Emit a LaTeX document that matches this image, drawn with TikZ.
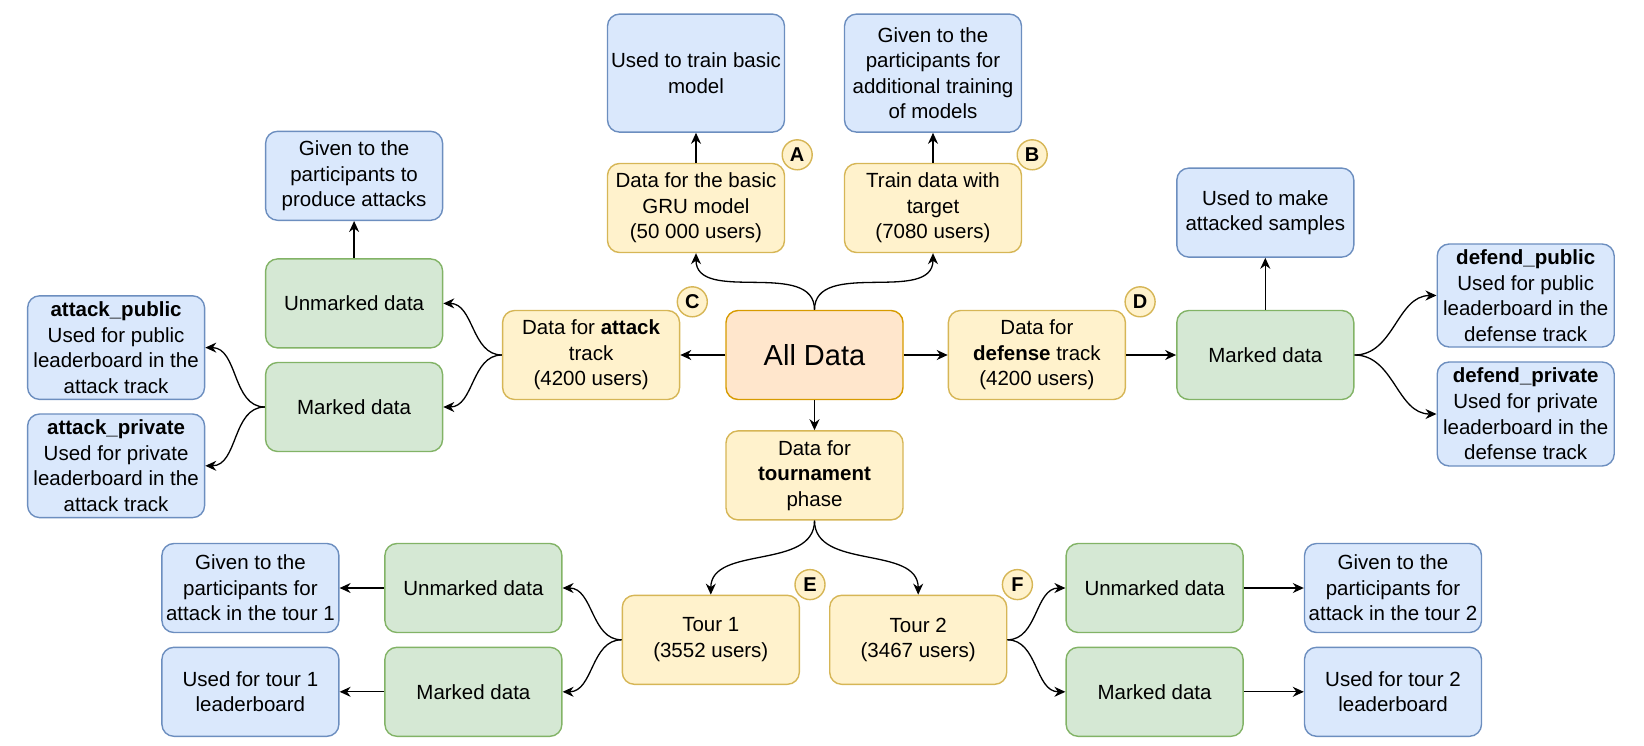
\documentclass[tikz,border=0pt]{standalone}
\usepackage{fontspec}
\setmainfont{Liberation Sans}
\usepackage{tikz}
\usetikzlibrary{positioning,arrows.meta}
\definecolor{bluefill}{HTML}{DAE8FC}
\definecolor{blueline}{HTML}{6C8EBF}
\definecolor{yelfill}{HTML}{FFF2CC}
\definecolor{yelline}{HTML}{D6B656}
\definecolor{grnfill}{HTML}{D5E8D4}
\definecolor{grnline}{HTML}{82B366}
\definecolor{orfill}{HTML}{FFE6CC}
\definecolor{orline}{HTML}{D79B00}

\begin{document}
\begin{tikzpicture}[
  x=0.5pt,y=-0.5pt,
  nbox/.style={rounded corners=6pt,line width=0.7pt,align=center,
               font=\fontsize{10.25}{12.8}\selectfont,inner sep=1pt,
               minimum width=88.5pt,minimum height=44.5pt},
  infobox/.style={nbox,draw=blueline,fill=bluefill},
  databox/.style={nbox,draw=yelline,fill=yelfill},
  markbox/.style={nbox,draw=grnline,fill=grnfill},
  mainbox/.style={nbox,draw=orline,fill=orfill,font=\fontsize{14.5}{17}\selectfont},
  lettertag/.style={circle,draw=yelline,fill=yelfill,line width=0.7pt,
                    minimum size=15pt,inner sep=0pt,
                    font=\bfseries\fontsize{10}{12}\selectfont},
  arr/.style={-{Stealth[length=5.5pt,width=5pt]},line width=0.65pt}
]
  \useasboundingbox (0,0) rectangle (1644,745);

  % centre and the four data parts
  \node[mainbox] (alldata) at (814.5,355) {All Data};
  \node[databox,left=22.5pt of alldata] (atk) {Data for \textbf{attack}\\track\\(4200 users)};
  \node[databox,right=22pt of alldata] (def) {Data for\\\textbf{defense} track\\(4200 users)};
  \node[databox,below=15pt of alldata] (tourn) {Data for\\\textbf{tournament}\\phase};
  \node[databox,above=28.3pt of alldata,xshift=-59.25pt] (basic) {Data for the basic\\GRU model\\(50 000 users)};
  \node[databox,above=28.3pt of alldata,xshift=59.25pt] (train) {Train data with\\target\\(7080 users)};

  % top
  \node[infobox,above=15pt of basic,minimum height=59pt] (basicuse) {Used to train basic\\model};
  \node[infobox,above=15pt of train,minimum height=59pt] (trainuse) {Given to the\\participants for\\additional training\\of models};

  % attack track
  \node[markbox,left=29.3pt of atk,yshift=25.8pt] (atkunm) {Unmarked data};
  \node[markbox,left=29.3pt of atk,yshift=-26pt] (atkmrk) {Marked data};
  \node[infobox,above=18.6pt of atkunm] (atkgiven) {Given to the\\participants to\\produce attacks};
  \node[infobox,left=29.8pt of atkmrk,yshift=29.7pt,minimum height=51.8pt] (atkpub) {\textbf{attack\_public}\\Used for public\\leaderboard in the\\attack track};
  \node[infobox,left=29.8pt of atkmrk,yshift=-29.4pt,minimum height=51.8pt] (atkpriv) {\textbf{attack\_private}\\Used for private\\leaderboard in the\\attack track};

  % defense track
  \node[markbox,right=25pt of def] (defmrk) {Marked data};
  \node[infobox,above=26pt of defmrk] (defuse) {Used to make\\attacked samples};
  \node[infobox,right=41pt of defmrk,yshift=29.75pt,minimum height=51.5pt] (defpub) {\textbf{defend\_public}\\Used for public\\leaderboard in the\\defense track};
  \node[infobox,right=41pt of defmrk,yshift=-29.5pt,minimum height=52pt] (defpriv) {\textbf{defend\_private}\\Used for private\\leaderboard in the\\defense track};

  % tournament
  \node[databox,below=37pt of tourn,xshift=-51.85pt] (tourA) {Tour 1\\(3552 users)};
  \node[databox,below=37pt of tourn,xshift=51.85pt] (tourB) {Tour 2\\(3467 users)};
  \node[markbox,left=29.5pt of tourA,yshift=25.9pt] (tAunm) {Unmarked data};
  \node[markbox,left=29.5pt of tourA,yshift=-26pt] (tAmrk) {Marked data};
  \node[infobox,left=22.3pt of tAunm] (tAgiven) {Given to the\\participants for\\attack in the tour 1};
  \node[infobox,left=22.3pt of tAmrk] (tAused) {Used for tour 1\\leaderboard};
  \node[markbox,right=29pt of tourB,yshift=25.9pt] (tBunm) {Unmarked data};
  \node[markbox,right=29pt of tourB,yshift=-26pt] (tBmrk) {Marked data};
  \node[infobox,right=30pt of tBunm] (tBgiven) {Given to the\\participants for\\attack in the tour 2};
  \node[infobox,right=30pt of tBmrk] (tBused) {Used for tour 2\\leaderboard};

  % letters
  \node[lettertag] (tagA) at ([shift={(6pt,4pt)}]basic.north east) {A};
  \node[lettertag] (tagB) at ([shift={(5pt,4pt)}]train.north east) {B};
  \node[lettertag] (tagC) at ([shift={(6pt,4pt)}]atk.north east) {C};
  \node[lettertag] (tagD) at ([shift={(7pt,4pt)}]def.north east) {D};
  \node[lettertag] (tagE) at ([shift={(5pt,5pt)}]tourA.north east) {E};
  \node[lettertag] (tagF) at ([shift={(5pt,5pt)}]tourB.north east) {F};

  % connectors
  \draw[arr] (alldata) -- (atk);
  \draw[arr] (alldata) -- (def);
  \draw[arr] (alldata) -- (tourn);
  \draw[arr] (alldata.north) to[out=90,in=-90] (basic.south);
  \draw[arr] (alldata.north) to[out=90,in=-90] (train.south);
  \draw[arr] (basic) -- (basicuse);
  \draw[arr] (train) -- (trainuse);

  \draw[arr] (atk.west) to[out=180,in=0] (atkunm.east);
  \draw[arr] (atk.west) to[out=180,in=0] (atkmrk.east);
  \draw[arr] (atkunm) -- (atkgiven);
  \draw[arr] (atkmrk.west) to[out=180,in=0] (atkpub.east);
  \draw[arr] (atkmrk.west) to[out=180,in=0] (atkpriv.east);

  \draw[arr] (def) -- (defmrk);
  \draw[arr] (defmrk) -- (defuse);
  \draw[arr] (defmrk.east) to[out=0,in=180] (defpub.west);
  \draw[arr] (defmrk.east) to[out=0,in=180] (defpriv.west);

  \draw[arr] (tourn.south) to[out=-90,in=90] (tourA.north);
  \draw[arr] (tourn.south) to[out=-90,in=90] (tourB.north);
  \draw[arr] (tourA.west) to[out=180,in=0] (tAunm.east);
  \draw[arr] (tourA.west) to[out=180,in=0] (tAmrk.east);
  \draw[arr] (tAunm) -- (tAgiven);
  \draw[arr] (tAmrk) -- (tAused);
  \draw[arr] (tourB.east) to[out=0,in=180] (tBunm.west);
  \draw[arr] (tourB.east) to[out=0,in=180] (tBmrk.west);
  \draw[arr] (tBunm) -- (tBgiven);
  \draw[arr] (tBmrk) -- (tBused);
\end{tikzpicture}
\end{document}
